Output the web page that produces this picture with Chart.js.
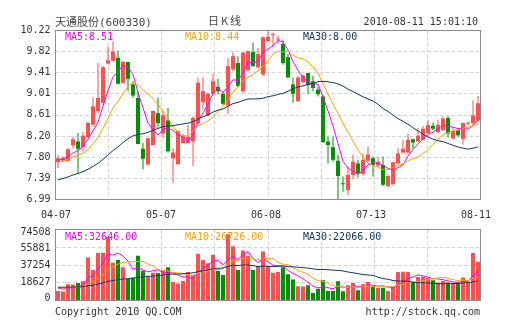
<!DOCTYPE html>
<html>
<head>
<meta charset="utf-8">
<script src="https://cdn.jsdelivr.net/npm/chart.js@4.4.0/dist/chart.umd.min.js"></script>
<style>
  body { margin: 0; background: #fff; }
  #wrap { position: relative; width: 505px; height: 330px; overflow: hidden;
          font-family: "DejaVu Sans Mono", monospace; font-size: 10px; color: #333; }
  #wrap canvas { position: absolute; left: 0; top: 0; }
  .t { position: absolute; white-space: nowrap; line-height: 12px; }
  .cjk { font-family: "Noto Sans CJK SC", sans-serif; }
</style>
</head>
<body>
<div id="wrap">
  <canvas id="kChart" width="505" height="330"></canvas>
  <canvas id="volChart" width="505" height="330"></canvas>

  <div class="t" style="left:55px; top:15px; font-size:11px; color:#444;"><span class="cjk">天通股份</span>(600330)</div>
  <div class="t cjk" style="left:208px; top:14px; font-size:11px; color:#444; letter-spacing:2px;">日K线</div>
  <div class="t" style="right:27px; top:16px;">2010-08-11 15:01:10</div>

  <div class="t" id="ma5Txt" style="left:65px; top:31px; color:#ff00ff;"></div>
  <div class="t" id="ma10Txt" style="left:185px; top:31px; color:#ffa500;"></div>
  <div class="t" id="ma30Txt" style="left:303px; top:31px; color:#103868;"></div>

  <div class="t" id="vma5Txt" style="left:65px; top:231px; color:#ff00ff;"></div>
  <div class="t" id="vma10Txt" style="left:185px; top:231px; color:#ffa500;"></div>
  <div class="t" id="vma30Txt" style="left:303px; top:231px; color:#103868;"></div>

  <div class="t" style="left:55px; top:306px;">Copyright 2010 QQ.COM</div>
  <div class="t" style="right:25px; top:306px;">http://stock.qq.com</div>
</div>

<script>
// trading days shown on the daily K chart
const dates = [
  '04-07','04-08','04-09','04-12','04-13','04-14','04-15','04-16','04-19','04-20',
  '04-21','04-22','04-23','04-26','04-27','04-28','04-29','04-30','05-04','05-05',
  '05-06','05-07','05-10','05-11','05-12','05-13','05-14','05-17','05-18','05-19',
  '05-20','05-24','05-25','05-26','05-27','05-28','05-31','06-01','06-02','06-03',
  '06-04','06-07','06-08','06-09','06-10','06-11','06-17','06-18','06-21','06-22',
  '06-23','06-24','06-25','06-28','06-29','07-01','07-02','07-05','07-06','07-07',
  '07-08','07-09','07-12','07-13','07-14','07-15','07-16','07-19','07-20','07-21',
  '07-22','07-23','07-26','07-27','07-28','07-29','07-30','08-02','08-03','08-04',
  '08-05','08-06','08-09','08-10','08-11'
];

const opens = [
  7.70, 7.73, 7.73, 8.02, 8.10, 8.00, 8.18, 8.42, 8.68, 8.84,
  9.59, 9.64, 9.70, 9.22, 9.62, 9.19, 8.93, 7.96, 7.66, 8.03,
  8.64, 8.26, 8.50, 7.78, 7.67, 8.07, 8.07, 8.10, 8.45, 8.85,
  8.60, 9.01, 9.14, 9.01, 8.79, 9.48, 9.60, 9.06, 9.46, 9.81,
  9.52, 9.38, 10.02, 10.14, 10.05, 9.96, 9.71, 9.19, 8.87, 9.23,
  9.41, 9.25, 9.09, 8.96, 8.10, 7.99, 7.73, 7.29, 7.17, 7.46,
  7.68, 7.48, 7.73, 7.78, 7.64, 7.65, 7.25, 7.28, 7.68, 7.89,
  7.89, 8.14, 8.10, 8.13, 8.26, 8.40, 8.28, 8.32, 8.55, 8.16,
  8.32, 8.15, 8.44, 8.45, 8.50
];
const closes = [
  7.78, 7.79, 7.95, 8.14, 7.96, 8.21, 8.45, 8.77, 8.93, 9.52,
  9.65, 9.82, 9.20, 9.62, 9.30, 8.98, 8.05, 7.77, 8.16, 8.68,
  8.45, 8.60, 7.91, 7.89, 8.30, 8.21, 8.19, 8.55, 9.22, 9.06,
  9.01, 9.25, 9.06, 8.82, 9.54, 9.73, 9.16, 9.80, 9.83, 9.54,
  9.77, 10.09, 10.10, 10.15, 10.06, 9.60, 9.32, 9.01, 9.32, 9.36,
  9.18, 9.12, 9.00, 8.09, 8.03, 7.75, 7.44, 7.28, 7.46, 7.71,
  7.49, 7.75, 7.85, 7.65, 7.71, 7.27, 7.44, 7.70, 7.87, 7.96,
  8.13, 8.08, 8.21, 8.34, 8.41, 8.34, 8.42, 8.54, 8.25, 8.30,
  8.22, 8.45, 8.45, 8.60, 8.83
];
const highs = [
  7.84, 7.81, 7.97, 8.19, 8.26, 8.28, 8.48, 8.94, 9.60, 9.54,
  9.91, 10.01, 9.83, 9.64, 9.62, 9.25, 9.06, 8.07, 8.16, 8.69,
  8.94, 8.68, 8.74, 7.97, 8.30, 8.24, 8.42, 8.58, 9.32, 9.33,
  9.03, 9.39, 9.30, 9.06, 9.70, 9.80, 9.73, 9.80, 9.84, 9.99,
  9.89, 10.10, 10.22, 10.18, 10.12, 10.05, 9.77, 9.32, 9.35, 9.38,
  9.41, 9.35, 9.14, 8.99, 8.19, 8.19, 7.84, 7.43, 7.62, 7.85,
  7.75, 7.87, 8.00, 7.81, 7.81, 7.81, 7.47, 7.71, 7.97, 8.13,
  8.24, 8.14, 8.35, 8.39, 8.50, 8.46, 8.52, 8.58, 8.58, 8.35,
  8.35, 8.46, 8.48, 8.88, 8.97
];
const lows = [
  7.59, 7.71, 7.71, 7.97, 7.49, 7.91, 8.16, 8.39, 8.64, 8.80,
  9.57, 9.64, 9.19, 9.20, 9.06, 8.93, 8.05, 7.57, 7.65, 8.02,
  8.36, 8.16, 7.89, 7.30, 7.65, 8.07, 8.07, 7.63, 8.42, 8.71,
  8.58, 9.00, 9.00, 8.80, 8.62, 9.44, 9.14, 9.03, 9.44, 9.52,
  9.51, 9.35, 10.01, 9.91, 9.96, 9.57, 9.32, 8.84, 8.86, 9.22,
  9.00, 9.06, 8.96, 8.07, 7.68, 7.71, 6.99, 7.14, 7.07, 7.38,
  7.41, 7.46, 7.71, 7.43, 7.62, 7.25, 7.23, 7.27, 7.68, 7.87,
  7.87, 7.96, 8.09, 8.13, 8.24, 8.32, 8.26, 8.30, 8.18, 8.13,
  8.19, 8.04, 8.41, 8.42, 8.47
];
const volumes = [
  10600, 10200, 18200, 17900, 19700, 21700, 48200, 34200, 53200, 53500,
  71500, 42500, 45600, 37300, 24700, 25900, 50200, 33400, 26600, 31100,
  30800, 34200, 37300, 20900, 19000, 22000, 31900, 28500, 52400, 45600,
  41800, 51300, 33400, 28500, 74508, 60800, 34200, 56200, 50200, 34200,
  38800, 55100, 38800, 31100, 31900, 37300, 29600, 23600, 16000, 15800,
  17100, 8300, 13300, 22800, 10600, 10600, 21700, 10400, 17100, 19700,
  11400, 18200, 20900, 15200, 14000, 14200, 10600, 15200, 32100, 32300,
  31900, 20900, 26440, 26640, 25240, 22800, 20100, 22000, 20100, 19030,
  19700, 25900, 20900, 53300, 43430
];

// closes and volumes of the 29 sessions before 04-07, feeding the moving averages
const priorCloses = [
  7.00, 7.05, 7.02, 7.10, 7.16, 7.08, 7.12, 7.20, 7.15, 7.24,
  7.22, 7.14, 7.10, 7.18, 7.25, 7.30, 7.34, 7.40, 7.46, 7.42,
  7.55, 7.62, 7.70, 7.68, 7.75, 7.72, 7.70, 7.78, 7.74
];
const priorVolumes = [
  14200, 16800, 15100, 13900, 17600, 15400, 14800, 16200, 13500, 15900,
  14600, 17200, 15800, 13200, 14900, 16500, 15300, 14100, 16900, 15600,
  14400, 13800, 15200, 16100, 14700, 13600, 15000, 14300, 15500
];

const priceTicks = [6.99, 7.39, 7.80, 8.20, 8.61, 9.01, 9.41, 9.82, 10.22];
const volTicks = [0, 18627, 37254, 55881, 74508];

const UP = '#ff5050', DOWN = '#009000';
const C_MA5 = '#ff00ff', C_MA10 = '#ffa500', C_MA30 = '#103868';
const MONO = { family: 'DejaVu Sans Mono', size: 10 };

function movingAvg(series, prior, n) {
  const all = prior.concat(series);
  return series.map((_, i) => {
    const end = prior.length + i + 1;
    let sum = 0;
    for (let k = end - n; k < end; k++) sum += all[k];
    return sum / n;
  });
}

const ma5 = movingAvg(closes, priorCloses, 5);
const ma10 = movingAvg(closes, priorCloses, 10);
const ma30 = movingAvg(closes, priorCloses, 30);
const vma5 = movingAvg(volumes, priorVolumes, 5);
const vma10 = movingAvg(volumes, priorVolumes, 10);
const vma30 = movingAvg(volumes, priorVolumes, 30);

const colors = closes.map((c, i) => (c >= opens[i] ? UP : DOWN));
const bodies = closes.map((c, i) => [opens[i], c]);
const wicks = highs.map((h, i) => [lows[i], h]);

const last = a => a[a.length - 1];
document.getElementById('ma5Txt').textContent = 'MA5:' + last(ma5).toFixed(2);
document.getElementById('ma10Txt').textContent = 'MA10:' + last(ma10).toFixed(2);
document.getElementById('ma30Txt').textContent = 'MA30:' + last(ma30).toFixed(2);
document.getElementById('vma5Txt').textContent = 'MA5:' + last(vma5).toFixed(2);
document.getElementById('vma10Txt').textContent = 'MA10:' + last(vma10).toFixed(2);
document.getElementById('vma30Txt').textContent = 'MA30:' + last(vma30).toFixed(2);

// dashed grid in equal divisions plus the gray frame around the plot
const boxGrid = {
  id: 'boxGrid',
  beforeDatasetsDraw(chart, args, opts) {
    const { ctx, chartArea: a } = chart;
    const L = Math.floor(a.left) + 0.5, R = Math.floor(a.right) + 0.5;
    const T = Math.floor(a.top) + 0.5, B = Math.floor(a.bottom) + 0.5;
    ctx.save();
    ctx.strokeStyle = '#d4d4d4';
    ctx.lineWidth = 1;
    ctx.setLineDash([4, 2]);
    ctx.beginPath();
    for (let k = 1; k < opts.cols; k++) {
      const x = Math.floor(L + (R - L) * k / opts.cols) + 0.5;
      ctx.moveTo(x, T); ctx.lineTo(x, B);
    }
    for (let k = 1; k < opts.rows; k++) {
      const y = Math.floor(T + (B - T) * k / opts.rows) + 0.5;
      ctx.moveTo(L, y); ctx.lineTo(R, y);
    }
    ctx.stroke();
    ctx.restore();
  },
  afterDatasetsDraw(chart) {
    const { ctx, chartArea: a } = chart;
    const L = Math.floor(a.left) + 0.5, R = Math.floor(a.right) + 0.5;
    const T = Math.floor(a.top) + 0.5, B = Math.floor(a.bottom) + 0.5;
    ctx.save();
    ctx.strokeStyle = '#8c8c8c';
    ctx.lineWidth = 1;
    ctx.strokeRect(L, T, R - L, B - T);
    ctx.restore();
  }
};

const maLine = (data, color) => ({
  type: 'line', data, borderColor: color, borderWidth: 1,
  pointRadius: 0, tension: 0, order: 0
});

const tickStep = (dates.length - 1) / 4;

new Chart(document.getElementById('kChart'), {
  type: 'bar',
  data: {
    labels: dates,
    datasets: [
      maLine(ma30, C_MA30),
      maLine(ma10, C_MA10),
      maLine(ma5, C_MA5),
      { data: bodies, backgroundColor: colors, barThickness: 4, minBarLength: 1,
        grouped: false, inflateAmount: 0, order: 1 },
      { data: wicks, backgroundColor: colors, barThickness: 1,
        grouped: false, inflateAmount: 0, order: 2 }
    ]
  },
  options: {
    responsive: false,
    animation: false,
    layout: { padding: { top: 30.5, right: 24.5, bottom: 110.5, left: 0 } },
    plugins: {
      legend: { display: false },
      tooltip: { enabled: false },
      boxGrid: { rows: 8, cols: 8 }
    },
    scales: {
      x: {
        offset: true,
        grid: { display: false, drawTicks: false },
        border: { display: false },
        ticks: {
          autoSkip: false, maxRotation: 0, padding: 10, labelOffset: -2,
          color: '#333', font: MONO,
          callback: (v, i) => (i % tickStep === 0 ? dates[i] : '')
        },
        afterFit: s => { s.height = 20; }
      },
      y: {
        min: priceTicks[0],
        max: priceTicks[priceTicks.length - 1],
        grid: { display: false, drawTicks: false },
        border: { display: false },
        afterBuildTicks: s => { s.ticks = priceTicks.map(v => ({ value: v })); },
        ticks: { padding: 5, color: '#333', font: MONO, callback: v => v.toFixed(2) },
        afterFit: s => { s.width = 55.5; }
      }
    }
  },
  plugins: [boxGrid]
});

new Chart(document.getElementById('volChart'), {
  type: 'bar',
  data: {
    labels: dates,
    datasets: [
      maLine(vma30, C_MA30),
      maLine(vma10, C_MA10),
      maLine(vma5, C_MA5),
      { data: volumes, backgroundColor: colors, barThickness: 4,
        inflateAmount: 0, order: 1 }
    ]
  },
  options: {
    responsive: false,
    animation: false,
    layout: { padding: { top: 229.5, right: 24.5, bottom: 29.5, left: 0 } },
    plugins: {
      legend: { display: false },
      tooltip: { enabled: false },
      boxGrid: { rows: 4, cols: 8 }
    },
    scales: {
      x: { display: false, offset: true },
      y: {
        min: 0,
        max: Math.max(...volumes) * 1.07,
        grid: { display: false, drawTicks: false },
        border: { display: false },
        afterBuildTicks: s => { s.ticks = volTicks.map(v => ({ value: v })); },
        ticks: { padding: 5, labelOffset: -2, color: '#333', font: MONO, callback: v => String(v) },
        afterFit: s => { s.width = 55.5; }
      }
    }
  },
  plugins: [boxGrid]
});
</script>
</body>
</html>
